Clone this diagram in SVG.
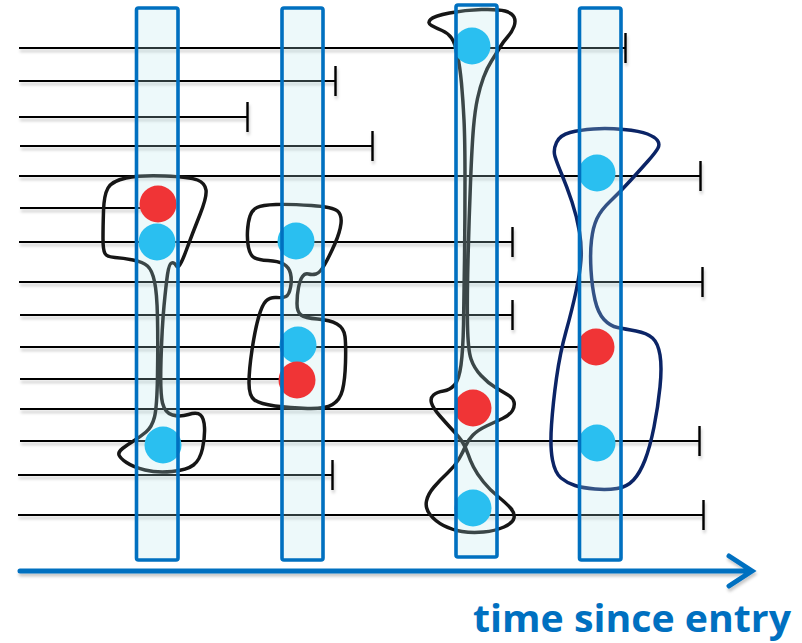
<svg xmlns="http://www.w3.org/2000/svg" width="802" height="643" viewBox="0 0 802 643">
  <style>
    .life { stroke: #000; stroke-width: 2.2; fill: none; marker-end: url(#bar); }
    .life-event { stroke: #000; stroke-width: 2.2; fill: none; }
    .band-fill { fill: rgb(180,230,236); fill-opacity: 0.24; stroke: none; }
    .band-edge { fill: none; stroke: #0070C0; stroke-width: 3.6; }
    .blob { fill: none; stroke: #161616; stroke-width: 3.5; stroke-linejoin: round; }
    .blob-navy { fill: none; stroke: #0B2466; stroke-width: 3.5; stroke-linejoin: round; }
    .censored { fill: #2ABFF0; }
    .event { fill: #F03436; }
    .axis { fill: none; stroke: #0070C0; stroke-width: 5; stroke-linecap: round; stroke-linejoin: miter; }
    .axis-label { font-family: 'Open Sans', 'Liberation Sans', sans-serif; font-weight: 700; font-size: 38px; fill: #0070C0; }
  </style>
  <defs>
    <marker id="bar" markerUnits="userSpaceOnUse" viewBox="0 0 4 32" markerWidth="4" markerHeight="32" refX="1" refY="16" orient="auto">
      <path d="M1.5,1 V31" stroke="#000" stroke-width="2.4"/>
    </marker>
    <filter id="soft-shadow" filterUnits="userSpaceOnUse" x="0" y="0" width="802" height="643">
      <feDropShadow dx="1" dy="3" stdDeviation="1.6" flood-color="#000" flood-opacity="0.22"/>
    </filter>
  </defs>

  <!-- subject follow-up lines: bar = censored, open end = event -->
  <g id="timelines" filter="url(#soft-shadow)">
    <path class="life" d="M19,48 H625"/>
    <path class="life" d="M19,81 H335"/>
    <path class="life" d="M19,117 H247"/>
    <path class="life" d="M20,146 H372"/>
    <path class="life" d="M19,176 H700"/>
    <path class="life-event" d="M20,208 H157"/>
    <path class="life" d="M19,242 H512"/>
    <path class="life" d="M19,282 H702"/>
    <path class="life" d="M20,315 H512"/>
    <path class="life-event" d="M20,347 H596"/>
    <path class="life-event" d="M20,379 H297"/>
    <path class="life-event" d="M20,409 H473"/>
    <path class="life" d="M20,441 H699"/>
    <path class="life" d="M18,475 H332"/>
    <path class="life" d="M18,515 H703"/>
  </g>

  <!-- risk set 1 -->
  <g id="riskset-1">
    <path class="blob" d="M103,238.5 Q103,227 103.5,211 Q104,195 108,188 Q112,181 126,178 Q140,175 165,176 Q190,177 197.5,180 Q205,183 206,190 Q207,197 200,214.5 Q193,232 186,251 Q179,270 176.5,266 Q174,262 171.5,263 Q169,264 167.5,274.5 Q166,285 164,306 Q162,327 161,360 Q160,393 162.5,403 Q165,413 172.5,415 Q180,417 188.5,414.5 Q197,412 200.5,415 Q204,418 204.5,427.5 Q205,437 202.5,448.5 Q200,460 193.5,465 Q187,470 172,471.5 Q157,473 145,470 Q133,467 126.5,462.5 Q120,458 119,455 Q118,452 122.5,448.5 Q127,445 133.5,441 Q140,437 146,432 Q152,427 154.5,417 Q157,407 157.5,375 Q158,343 157.5,318 Q157,293 154.5,281.5 Q152,270 147.5,266 Q143,262 133,260 Q123,258 115,257.5 Q107,257 105,253.5 Q103,250 103,238.5 Z"/>
    <rect class="band-fill" x="136.5" y="8" width="41.5" height="552" rx="2"/>
    <circle class="event" cx="158" cy="204" r="18.5"/>
    <circle class="censored" cx="157" cy="242" r="18.5"/>
    <circle class="censored" cx="163" cy="445" r="18.5"/>
    <rect class="band-edge" x="136.5" y="8" width="41.5" height="552" rx="2"/>
  </g>

  <!-- risk set 2 -->
  <g id="riskset-2">
    <path class="blob" d="M247.5,231 Q248,222 250,216 Q252,210 257,207.5 Q262,205 276,204.5 Q290,204 311.5,205.5 Q333,207 337.5,211 Q342,215 341,223.5 Q340,232 335,243.5 Q330,255 325,264 Q320,273 316,274 Q312,275 308.5,274 Q305,273 302.5,276.5 Q300,280 298.5,287.5 Q297,295 297,303.5 Q297,312 301,315 Q305,318 317.5,319 Q330,320 337,324 Q344,328 345,336.5 Q346,345 345.5,362.5 Q345,380 342.5,390 Q340,400 332.5,404.5 Q325,409 307.5,408.5 Q290,408 275,406 Q260,404 254.5,400 Q249,396 249,383 Q249,370 252,350 Q255,330 258.5,317.5 Q262,305 266,301 Q270,297 276.5,297.5 Q283,298 286,296.5 Q289,295 290.5,287.5 Q292,280 290.5,273.5 Q289,267 283.5,264 Q278,261 268,260.5 Q258,260 254,257.5 Q250,255 248.5,247.5 Q247,240 247.5,231 Z"/>
    <rect class="band-fill" x="282" y="8" width="41" height="552" rx="2"/>
    <circle class="censored" cx="296" cy="241" r="18.5"/>
    <circle class="censored" cx="298" cy="345" r="18.5"/>
    <circle class="event" cx="297" cy="380" r="18.5"/>
    <rect class="band-edge" x="282" y="8" width="41" height="552" rx="2"/>
  </g>

  <!-- risk set 3 -->
  <g id="riskset-3">
    <path class="blob" d="M431.5,25.5 Q427,23 430.5,19.5 Q434,16 449.5,13 Q465,10 481.5,9.5 Q498,9 505,11 Q512,13 514,17 Q516,21 514,26.5 Q512,32 507.5,37 Q503,42 499.5,48 Q496,54 491.5,61 Q487,68 483.5,77.5 Q480,87 477.5,98.5 Q475,110 473.5,127.5 Q472,145 470.5,182.5 Q469,220 468,260 Q467,300 467.5,325 Q468,350 471,359 Q474,368 481,375.5 Q488,383 495.5,387.5 Q503,392 508,395 Q513,398 514,402 Q515,406 512.5,410.5 Q510,415 502.5,418.5 Q495,422 486.5,426 Q478,430 473,435 Q468,440 465.5,446 Q463,452 459,459 Q455,466 447.5,473 Q440,480 434,487 Q428,494 426.5,501 Q425,508 430,514.5 Q435,521 443.5,525.5 Q452,530 462,531.5 Q472,533 483.5,532 Q495,531 504,527 Q513,523 514,518 Q515,513 510.5,508 Q506,503 498,496.5 Q490,490 483.5,482 Q477,474 473.5,467 Q470,460 468,454 Q466,448 463,443 Q460,438 453,430.5 Q446,423 439.5,415.5 Q433,408 431.5,403 Q430,398 433.5,395 Q437,392 443.5,391 Q450,390 454.5,385 Q459,380 461,365 Q463,350 463.5,325 Q464,300 464.5,260 Q465,220 465,180 Q465,140 464,120 Q463,100 461.5,83.5 Q460,67 457.5,55 Q455,43 451.5,38 Q448,33 442,30.5 Q436,28 431.5,25.5 Z"/>
    <rect class="band-fill" x="456" y="5" width="41" height="552" rx="2"/>
    <circle class="censored" cx="472" cy="46" r="18.5"/>
    <circle class="event" cx="473" cy="408" r="18.5"/>
    <circle class="censored" cx="473" cy="508" r="18.5"/>
    <rect class="band-edge" x="456" y="5" width="41" height="552" rx="2"/>
  </g>

  <!-- risk set 4 -->
  <g id="riskset-4">
    <path class="blob-navy" d="M555,156.5 Q553,150 556.5,142.5 Q560,135 570,132.5 Q580,130 593.5,129 Q607,128 623.5,129.5 Q640,131 647.5,134 Q655,137 657.5,140.5 Q660,144 658,148 Q656,152 648,161 Q640,170 630,181 Q620,192 610.5,201 Q601,210 597,218.5 Q593,227 591.5,240 Q590,253 591,270 Q592,287 595,300 Q598,313 604,319.5 Q610,326 617.5,327.5 Q625,329 636,331 Q647,333 652.5,338 Q658,343 660,355 Q662,367 660,387 Q658,407 654,427 Q650,447 645,460 Q640,473 633.5,480 Q627,487 617,488.5 Q607,490 595,489 Q583,488 575,485.5 Q567,483 561,478 Q555,473 552.5,460 Q550,447 551.5,425 Q553,403 556.5,378 Q560,353 566,331.5 Q572,310 576,291.5 Q580,273 581,260 Q582,247 579.5,232 Q577,217 572,202 Q567,187 562,175 Q557,163 555,156.5 Z"/>
    <rect class="band-fill" x="579.5" y="8" width="41.5" height="552" rx="2"/>
    <circle class="censored" cx="597" cy="173" r="18.5"/>
    <circle class="event" cx="596" cy="347" r="18.5"/>
    <circle class="censored" cx="597" cy="443" r="18.5"/>
    <rect class="band-edge" x="579.5" y="8" width="41.5" height="552" rx="2"/>
  </g>

  <!-- time axis -->
  <g id="time-axis">
    <path class="axis" d="M20,571 H750 M729,556 L752,571 L729,586" filter="url(#soft-shadow)"/>
    <text class="axis-label" x="473" y="632" textLength="318" lengthAdjust="spacingAndGlyphs">time since entry</text>
  </g>
</svg>
